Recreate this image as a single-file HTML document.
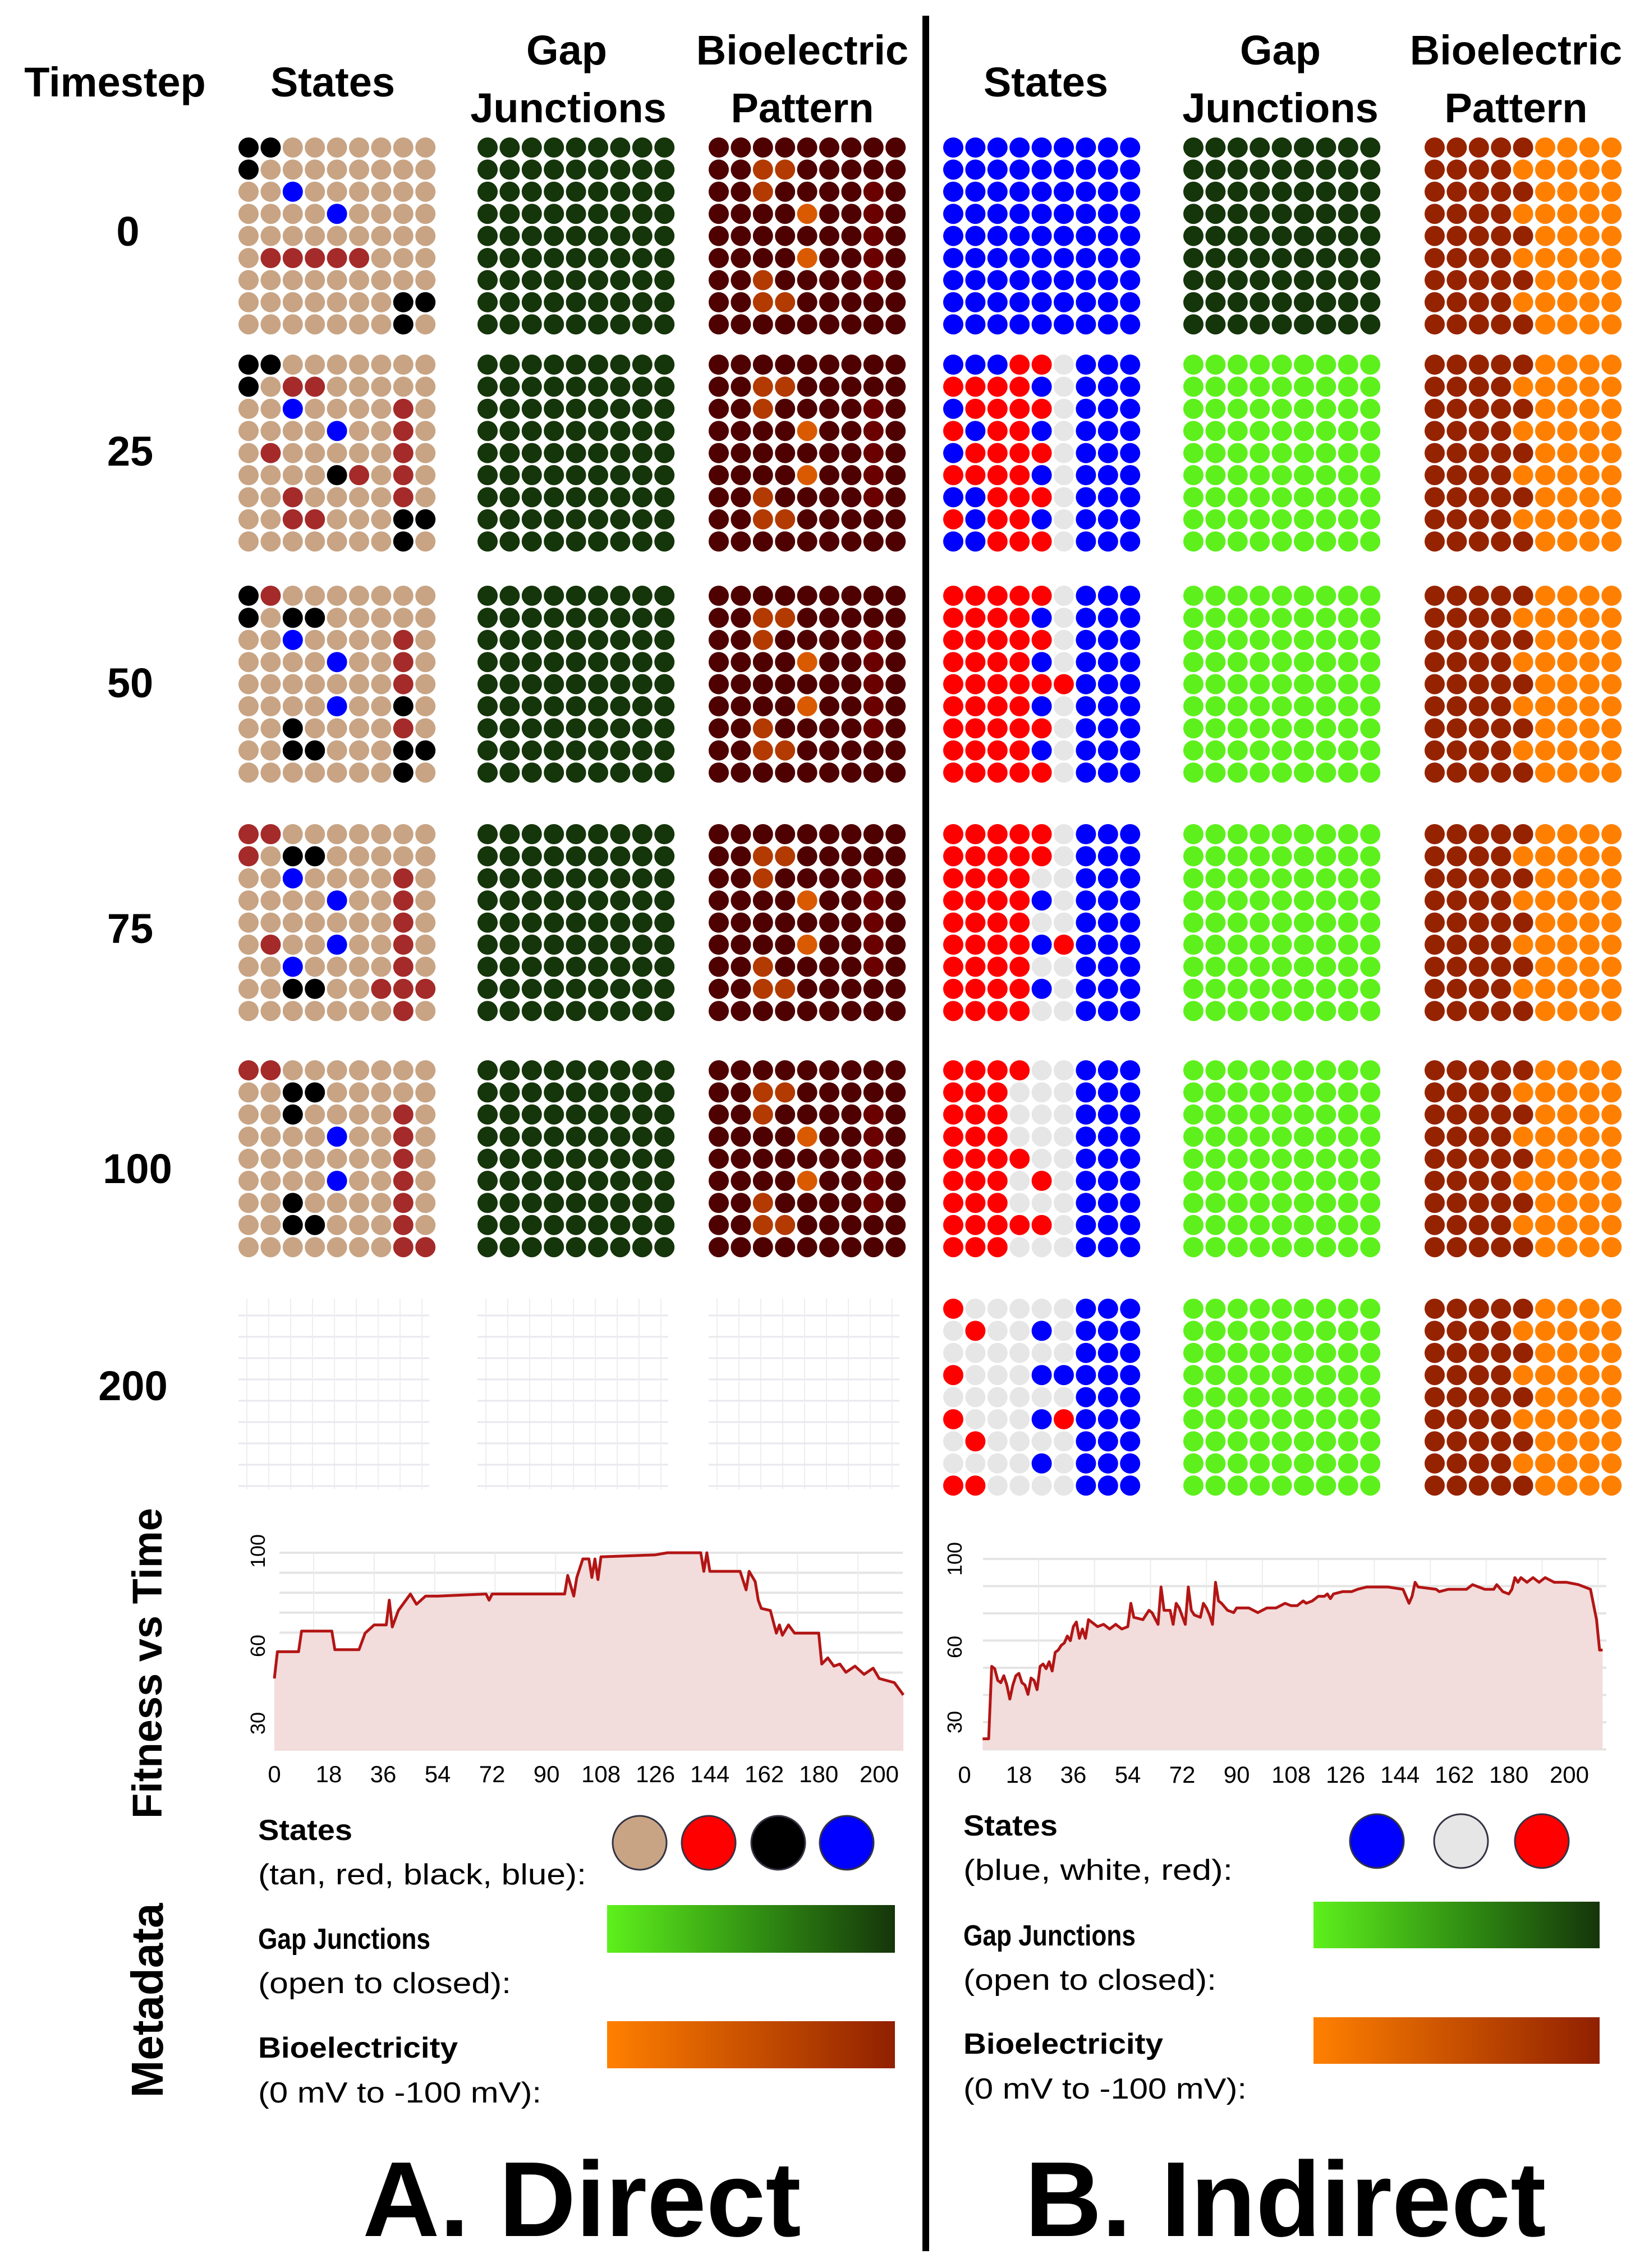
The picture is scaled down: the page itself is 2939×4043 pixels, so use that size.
<!DOCTYPE html>
<html><head><meta charset="utf-8"><title>Direct vs Indirect</title>
<style>
html,body{margin:0;padding:0;background:#fff;}
svg{display:block;}
text{font-family:"Liberation Sans",sans-serif;}
</style></head>
<body>
<svg id="fig" xmlns="http://www.w3.org/2000/svg" width="2939" height="4043" viewBox="0 0 2939 4043">
<rect x="0" y="0" width="2939" height="4043" fill="#fff"/>
<rect x="1644" y="28" width="12" height="3985" fill="#000"/>
<g font-weight="bold" font-size="74" text-anchor="middle" fill="#000">
<text x="205" y="172">Timestep</text>
<text x="593" y="172">States</text>
<text x="1010" y="115">Gap</text>
<text x="1013" y="218">Junctions</text>
<text x="1430" y="115">Bioelectric</text>
<text x="1430" y="218">Pattern</text>
<text x="1864" y="172">States</text>
<text x="2282" y="115">Gap</text>
<text x="2282" y="218">Junctions</text>
<text x="2702" y="115">Bioelectric</text>
<text x="2702" y="218">Pattern</text>
<text x="228" y="438">0</text>
<text x="232" y="830">25</text>
<text x="232" y="1243">50</text>
<text x="232" y="1681">75</text>
<text x="245" y="2109">100</text>
<text x="237" y="2496">200</text>
</g>
<text transform="translate(288,2965) rotate(-90)" font-weight="bold" font-size="74" text-anchor="middle">Fitness vs Time</text>
<text transform="translate(290,3566) rotate(-90)" font-weight="bold" font-size="80" text-anchor="middle">Metadata</text>
<g id="grids"></g>
<g id="charts"></g>
<g id="legend">
<defs>
<linearGradient id="gapGrad" x1="0" x2="1"><stop offset="0" stop-color="#5ef01c"/><stop offset="0.55" stop-color="#2f8a12"/><stop offset="1" stop-color="#15350a"/></linearGradient>
<linearGradient id="bioGrad" x1="0" x2="1"><stop offset="0" stop-color="#ff8000"/><stop offset="1" stop-color="#902000"/></linearGradient>
</defs>
<g font-size="52" fill="#000">
<text x="460" y="3280" font-weight="bold" textLength="168" lengthAdjust="spacingAndGlyphs">States</text>
<text x="460" y="3359" textLength="585" lengthAdjust="spacingAndGlyphs">(tan, red, black, blue):</text>
<text x="460" y="3474" font-weight="bold" textLength="307" lengthAdjust="spacingAndGlyphs">Gap Junctions</text>
<text x="460" y="3553" textLength="451" lengthAdjust="spacingAndGlyphs">(open to closed):</text>
<text x="460" y="3668" font-weight="bold" textLength="356" lengthAdjust="spacingAndGlyphs">Bioelectricity</text>
<text x="460" y="3748" textLength="505" lengthAdjust="spacingAndGlyphs">(0 mV to -100 mV):</text>
<text x="1717" y="3272" font-weight="bold" textLength="168" lengthAdjust="spacingAndGlyphs">States</text>
<text x="1717" y="3351" textLength="480" lengthAdjust="spacingAndGlyphs">(blue, white, red):</text>
<text x="1717" y="3468" font-weight="bold" textLength="307" lengthAdjust="spacingAndGlyphs">Gap Junctions</text>
<text x="1717" y="3547" textLength="451" lengthAdjust="spacingAndGlyphs">(open to closed):</text>
<text x="1717" y="3661" font-weight="bold" textLength="356" lengthAdjust="spacingAndGlyphs">Bioelectricity</text>
<text x="1717" y="3741" textLength="505" lengthAdjust="spacingAndGlyphs">(0 mV to -100 mV):</text>
</g>
<circle cx="1140" cy="3285" r="48" fill="#c8a484" stroke="#334" stroke-width="3"/>
<circle cx="1263" cy="3285" r="48" fill="#ff0000" stroke="#334" stroke-width="3"/>
<circle cx="1387" cy="3285" r="48" fill="#000" stroke="#334" stroke-width="3"/>
<circle cx="1509" cy="3285" r="48" fill="#0000ff" stroke="#334" stroke-width="3"/>
<rect x="1082" y="3396" width="513" height="85" fill="url(#gapGrad)"/>
<rect x="1082" y="3603" width="513" height="84" fill="url(#bioGrad)"/>
<circle cx="2454" cy="3282" r="48" fill="#0000ff" stroke="#334" stroke-width="3"/>
<circle cx="2604" cy="3282" r="48" fill="#e6e6e6" stroke="#334" stroke-width="3"/>
<circle cx="2748" cy="3282" r="48" fill="#ff0000" stroke="#334" stroke-width="3"/>
<rect x="2341" y="3390" width="510" height="83" fill="url(#gapGrad)"/>
<rect x="2341" y="3596" width="510" height="83" fill="url(#bioGrad)"/>
</g>
<text x="1037" y="3986" font-weight="bold" font-size="190" text-anchor="middle">A. Direct</text>
<text x="2291" y="3986" font-weight="bold" font-size="190" text-anchor="middle">B. Indirect</text>
</svg>
<script>
// ---- grid data (9x9 per panel) ----
const aStates = [
["KKTTTTTTT","KTTTTTTTT","TTBTTTTTT","TTTTBTTTT","TTTTTTTTT","TRRRRRTTT","TTTTTTTTT","TTTTTTTKK","TTTTTTTKT"],
["KKTTTTTTT","KTRRTTTTT","TTBTTTTRT","TTTTBTTRT","TRTTTTTRT","TTTTKRTRT","TTRTTTTRT","TTRRTTTKK","TTTTTTTKT"],
["KRTTTTTTT","KTKKTTTTT","TTBTTTTRT","TTTTBTTRT","TTTTTTTRT","TTTTBTTKT","TTKTTTTRT","TTKKTTTKK","TTTTTTTKT"],
["RRTTTTTTT","RTKKTTTTT","TTBTTTTRT","TTTTBTTRT","TTTTTTTRT","TRTTBTTRT","TTBTTTTRT","TTKKTTRRR","TTTTTTTRT"],
["RRTTTTTTT","TTKKTTTTT","TTKTTTTRT","TTTTBTTRT","TTTTTTTRT","TTTTBTTRT","TTKTTTTRT","TTKKTTTRT","TTTTTTTRR"]
];
const aBio = ["DDDDDDDDD","DDOODDDDD","DDODDDDMD","DDDDPDDMD","DDDDDDDMD","DDDDPDDMD","DDODDDDMD","DDOODDDDD","DDDDDDDDD"];
const bStates = [
["BBBBBBBBB","BBBBBBBBB","BBBBBBBBB","BBBBBBBBB","BBBBBBBBB","BBBBBBBBB","BBBBBBBBB","BBBBBBBBB","BBBBBBBBB"],
["BBBRRWBBB","RRRRBWBBB","BRRRRWBBB","RBRRBWBBB","BRRRRWBBB","RRRRBWBBB","BBRRRWBBB","RBRRBWBBB","BBRRRWBBB"],
["RRRRRWBBB","RRRRBWBBB","RRRRRWBBB","RRRRBWBBB","RRRRRRBBB","RRRRBWBBB","RRRRRWBBB","RRRRBWBBB","RRRRRWBBB"],
["RRRRRWBBB","RRRRRWBBB","RRRRWWBBB","RRRRBWBBB","RRRRWWBBB","RRRRBRBBB","RRRRWWBBB","RRRRBWBBB","RRRRWWBBB"],
["RRRRWWBBB","RRRWWWBBB","RRRWWWBBB","RRRWWWBBB","RRRRWWBBB","RRRWRWBBB","RRRWWWBBB","RRRRRWBBB","RRRWWWBBB"],
["RWWWWWBBB","WRWWBWBBB","WWWWWWBBB","RWWWBBBBB","WWWWWWBBB","RWWWBRBBB","WRWWWWBBB","WWWWBWBBB","RRWWWWBBB"]
];
const bBioDarkCount = [5,4,5,4,5,4,5,4,5];
const rowTops = [245,632,1044,1469,1890,2315];
const colLefts = [425,851,1263,1681,2109,2539];
const aColors = {T:"#c8a484",R:"#a52a2a",K:"#000000",B:"#0000ff"};
const bColors = {R:"#ff0000",W:"#e6e6e6",B:"#0000ff"};
const bioAColors = {D:"#4f0000",O:"#b33a00",P:"#d95a00",M:"#6b0000"};
const NS = "http://www.w3.org/2000/svg";
const gridsG = document.getElementById('grids');
const pitch = 39.4, rad = 18;
const panelNames = ["a-states","a-gap","a-bio","b-states","b-gap","b-bio"];
function panel(pi, ri, colorFn){
  const g = document.createElementNS(NS,'g');
  
  
  for(let r=0;r<9;r++) for(let c=0;c<9;c++){
    const col = colorFn(r,c);
    if(!col) continue;
    const ci = document.createElementNS(NS,'circle');
    ci.setAttribute('cx', colLefts[pi]+rad+c*pitch);
    ci.setAttribute('cy', rowTops[ri]+rad+r*pitch);
    ci.setAttribute('r', rad);
    ci.setAttribute('fill', col);
    
    
    g.appendChild(ci);
  }
  gridsG.appendChild(g);
}
for(let ri=0;ri<6;ri++){
  if(ri<5){
    panel(0,ri,(r,c)=>aColors[aStates[ri][r][c]]);
    panel(1,ri,()=>"#15350a");
    panel(2,ri,(r,c)=>bioAColors[aBio[r][c]]);
  } else {
    for(let pi=0;pi<3;pi++){
      const g=document.createElementNS(NS,'g');
      
      
      for(let k=0;k<9;k++){
        const l=document.createElementNS(NS,'line');
        l.setAttribute('x1',colLefts[pi]);l.setAttribute('x2',colLefts[pi]+340);
        l.setAttribute('y1',rowTops[5]+30+k*38);l.setAttribute('y2',rowTops[5]+30+k*38);
        l.setAttribute('stroke','#e8e8ee');l.setAttribute('stroke-width','3');
        g.appendChild(l);
        const v=document.createElementNS(NS,'line');
        v.setAttribute('x1',colLefts[pi]+15+k*39);v.setAttribute('x2',colLefts[pi]+15+k*39);
        v.setAttribute('y1',rowTops[5]);v.setAttribute('y2',rowTops[5]+340);
        v.setAttribute('stroke','#eeeef2');v.setAttribute('stroke-width','2');
        g.appendChild(v);
      }
      gridsG.appendChild(g);
    }
  }
  panel(3,ri,(r,c)=>bColors[bStates[ri][r][c]]);
  panel(4,ri,()=> ri===0 ? "#15350a" : "#5ef01c");
  panel(5,ri,(r,c)=> c<bBioDarkCount[r] ? "#962300" : "#ff8000");
}

// ---- fitness chart data ----
const fitA_t = [0,1,8,9,19,20,28,30,33,37,38,39,41,45,47,50,54,70,71,72,96,97,99,100,102,104,105,106,107,108,126,130,141,142,143,144,154,156,157,159,160,161,164,166,167,168,170,172,180,181,183,185,187,189,192,195,198,200,205,208];
const fitA_v = [39,52,52,62,62,53,53,61,65,65,77,64,72,80,75,79,79,80,77,80,80,89,79,88,97,97,88,97,87,98,99,100,100,91,100,91,91,82,91,86,77,73,72,61,65,60,65,61,61,46,49,45,46,42,45,41,44,39,37,31];
const fitB_t = [6,8,9,10,11,12,13,14,15,16,17,18,19,20,21,22,23,24,25,26,27,28,29,30,31,32,33,34,35,36,37,38,39,40,41,42,44,46,48,50,52,54,55,56,59,61,62,64,65,66,68,69,70,71,73,74,75,76,78,79,80,81,82,83,84,85,87,89,90,92,94,97,100,103,106,108,110,112,113,115,117,119,120,121,122,125,128,130,133,140,145,147,148,149,150,156,157,160,166,168,170,172,175,176,178,180,181,182,183,184,186,188,190,192,195,199,203,207,209,210,211];
const fitB_v = [23,23,54,53,48,47,50,46,40,46,50,51,47,46,42,49,48,44,54,55,53,56,52,60,61,63,64,67,65,71,73,66,70,66,74,73,71,72,70,72,70,71,81,75,74,78,77,72,88,78,78,72,81,79,72,88,78,76,75,81,79,76,72,90,82,81,78,77,79,79,79,77,79,79,81,80,80,82,81,82,84,84,85,83,85,86,86,87,88,88,87,81,84,90,88,87,86,87,87,89,88,87,87,89,86,85,87,92,90,92,90,92,90,92,90,90,89,87,74,61,61];
const tickLabels = ["0","18","36","54","72","90","108","126","144","162","180","200"];
const tickVals = [0,18,36,54,72,90,108,126,144,162,180,200];
const yTickLabels = ["100","60","30"];

const charts = document.getElementById('charts');
function drawChart(cfg){
  const g=document.createElementNS(NS,'g');
  
  
  const xs=t=>cfg.x0+t*cfg.kx, ys=v=>cfg.y100+(100-v)*cfg.ky;
  for(let k=0;k<cfg.nh;k++){
    const y=cfg.y100+k*cfg.hstep;
    const l=document.createElementNS(NS,'line');
    l.setAttribute('x1',cfg.left);l.setAttribute('x2',cfg.right);l.setAttribute('y1',y);l.setAttribute('y2',y);
    l.setAttribute('stroke','#e4e4e4');l.setAttribute('stroke-width','4');
    
    
    g.appendChild(l);
  }
  for(let t=cfg.vstart;t<=210;t+=cfg.vstep){
    const x=xs(t); if(x<cfg.left||x>cfg.right) continue;
    const l=document.createElementNS(NS,'line');
    l.setAttribute('x1',x);l.setAttribute('x2',x);l.setAttribute('y1',cfg.y100);l.setAttribute('y2',cfg.bottom);
    l.setAttribute('stroke','#ececec');l.setAttribute('stroke-width','2');
    
    
    g.appendChild(l);
  }
  let d='';
  cfg.t.forEach((t,i)=>{ d+=(i?'L':'M')+xs(t).toFixed(1)+','+ys(cfg.v[i]).toFixed(1); });
  const area=document.createElementNS(NS,'path');
  area.setAttribute('d', d+'L'+xs(cfg.t[cfg.t.length-1]).toFixed(1)+','+cfg.bottom+'L'+xs(cfg.t[0]).toFixed(1)+','+cfg.bottom+'Z');
  area.setAttribute('fill','#f2dcdc');
  
  
  g.appendChild(area);
  const line=document.createElementNS(NS,'path');
  line.setAttribute('d',d);line.setAttribute('fill','none');line.setAttribute('stroke','#b31515');line.setAttribute('stroke-width','5');line.setAttribute('stroke-linejoin','round');
  
  
  g.appendChild(line);
  tickLabels.forEach((lab,i)=>{
    const tx=document.createElementNS(NS,'text');
    tx.setAttribute('x',xs(tickVals[i]));tx.setAttribute('y',cfg.ticky);
    tx.setAttribute('font-size','42');tx.setAttribute('text-anchor','middle');
    tx.textContent=lab;
    
    
    g.appendChild(tx);
  });
  yTickLabels.forEach((lab,i)=>{
    const tx=document.createElementNS(NS,'text');
    tx.setAttribute('transform','translate('+cfg.ylabx+','+cfg.ylaby[i]+') rotate(-90)');
    tx.setAttribute('font-size','36');tx.setAttribute('text-anchor','middle');
    tx.textContent=lab;
    
    
    g.appendChild(tx);
  });
  charts.appendChild(g);
}
drawChart({name:'fitness-chart-a',t:fitA_t,v:fitA_v,x0:489,kx:5.39,y100:2768,ky:3.674,bottom:3121,left:498,right:1609,nh:10,hstep:35.6,vstart:13,vstep:20,ticky:3177,ylabx:472,ylaby:[2765,2934,3072]});
drawChart({name:'fitness-chart-b',t:fitB_t,v:fitB_v,x0:1719,kx:5.39,y100:2779,ky:4.163,bottom:3119,left:1752,right:2863,nh:8,hstep:48.5,vstart:6,vstep:18.5,ticky:3178,ylabx:1714,ylaby:[2779,2936,3070]});
</script>
</body></html>
